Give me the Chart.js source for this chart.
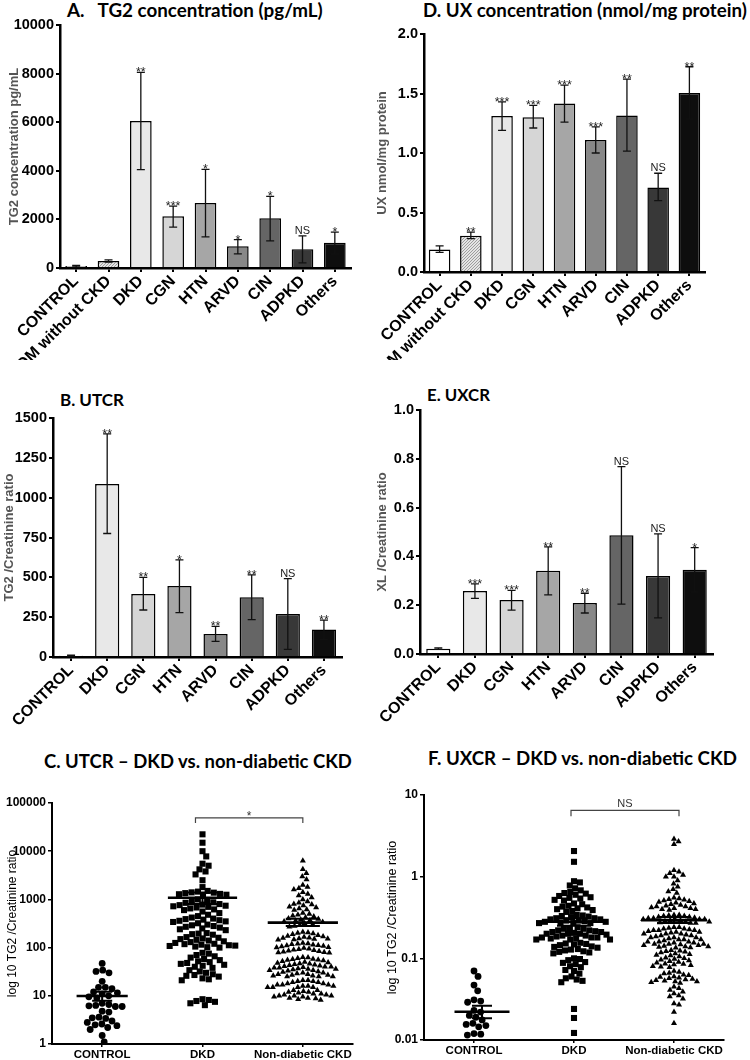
<!DOCTYPE html>
<html>
<head>
<meta charset="utf-8">
<script src="https://cdn.jsdelivr.net/npm/chart.js@4.4.1/dist/chart.umd.min.js"></script>
<style>
  body { margin: 0; background: #fff; width: 750px; height: 1060px; position: relative; overflow: hidden; }
  .panel { position: absolute; }
  .ttl { position: absolute; font-family: Lato, 'Open Sans', sans-serif; font-weight: 700; white-space: nowrap; color: #000; line-height: 1; font-size: 18px; }
</style>
</head>
<body>
<div class="ttl" data-x="67" data-y="11" data-w="256">A.&nbsp;&nbsp; TG2 concentration (pg/mL)</div>
<div class="ttl" data-x="423" data-y="11" data-w="324">D. UX concentration (nmol/mg protein)</div>
<div class="ttl" data-x="60" data-y="400" data-w="64">B. UTCR</div>
<div class="ttl" data-x="427" data-y="396" data-w="63">E. UXCR</div>
<div class="ttl" data-x="44" data-y="762" data-w="308">C. UTCR – DKD vs. non-diabetic CKD</div>
<div class="ttl" data-x="428" data-y="759" data-w="309">F. UXCR – DKD vs. non-diabetic CKD</div>

<div class="panel" style="left:0;top:0;width:375px;height:360px"><canvas id="chartA"></canvas></div>
<div class="panel" style="left:375px;top:0;width:375px;height:360px"><canvas id="chartD"></canvas></div>
<div class="panel" style="left:0;top:370px;width:375px;height:360px"><canvas id="chartB"></canvas></div>
<div class="panel" style="left:375px;top:370px;width:375px;height:360px"><canvas id="chartE"></canvas></div>
<div class="panel" style="left:0;top:780px;width:375px;height:280px"><canvas id="chartC"></canvas></div>
<div class="panel" style="left:375px;top:780px;width:375px;height:280px"><canvas id="chartF"></canvas></div>

<script>
// ---- data ----
const groups9 = ['CONTROL', 'DM without CKD', 'DKD', 'CGN', 'HTN', 'ARVD', 'CIN', 'ADPKD', 'Others'];
const groups8 = ['CONTROL', 'DKD', 'CGN', 'HTN', 'ARVD', 'CIN', 'ADPKD', 'Others'];
const groups3 = ['CONTROL', 'DKD', 'Non-diabetic CKD'];

// A. TG2 concentration (pg/mL)
const tg2Mean = [80, 290, 6050, 2130, 2680, 900, 2050, 775, 1040];
const tg2Low  = [50, 245, 4050, 1680, 1280, 580, 1120, 210, 580];
const tg2High = [110, 335, 8050, 2550, 4060, 1170, 2950, 1320, 1480];
const tg2Sig  = ['', '', '**', '***', '*', '*', '*', 'NS', '*'];
const tg2Ticks = [0, 2000, 4000, 6000, 8000, 10000];

// D. UX concentration (nmol/mg protein)
const uxMean = [0.19, 0.305, 1.31, 1.30, 1.415, 1.11, 1.315, 0.71, 1.505];
const uxLow  = [0.165, 0.28, 1.19, 1.21, 1.26, 1.0, 1.015, 0.6, 1.285];
const uxHigh = [0.22, 0.335, 1.43, 1.40, 1.57, 1.22, 1.62, 0.83, 1.725];
const uxSig  = ['', '**', '***', '***', '***', '***', '**', 'NS', '**'];
const uxTicks = [0, 0.5, 1.0, 1.5, 2.0];

// B. UTCR
const utcrMean = [8, 1085, 395, 445, 145, 375, 270, 172];
const utcrLow  = [5, 775, 295, 278, 98, 235, 48, 110];
const utcrHigh = [11, 1400, 500, 610, 192, 515, 492, 232];
const utcrSig  = ['', '**', '**', '*', '**', '**', 'NS', '**'];
const utcrTicks = [0, 250, 500, 750, 1000, 1250, 1500];

// E. UXCR
const uxcrMean = [0.022, 0.258, 0.221, 0.341, 0.209, 0.487, 0.32, 0.345];
const uxcrLow  = [0.019, 0.228, 0.180, 0.242, 0.168, 0.204, 0.148, 0.255];
const uxcrHigh = [0.025, 0.287, 0.261, 0.439, 0.249, 0.768, 0.492, 0.436];
const uxcrSig  = ['', '***', '***', '**', '**', 'NS', 'NS', '*'];
const uxcrTicks = [0, 0.2, 0.4, 0.6, 0.8, 1.0];

// C. UTCR individual values
const utcrControl = [47, 34, 32, 30, 20, 15, 15, 14, 12, 11.5, 11, 10, 9.5, 9, 7, 6.6, 6.3, 6.2, 6, 6,
  4.8, 4.6, 3.6, 3.5, 3.4, 3.0, 2.8, 2.6, 2.5, 2.4, 2.2, 2.0, 1.5, 1.1];
const utcrDKD = [22400, 15000, 10000, 7800, 5500, 5000, 4200, 3800, 3300, 2500, 1800,
  1500, 1450, 1400, 1380, 1350, 1300, 1280, 1250, 1200, 1000, 950, 900, 870, 850,
  800, 780, 760, 740, 720, 700, 680, 650, 620, 600, 560, 520, 480, 450, 420, 400,
  390, 380, 370, 360, 350, 340, 320, 300, 290, 280, 270, 260, 250, 240, 230, 200, 195, 190, 185,
  165, 160, 155, 150, 145, 140, 135, 130, 125, 120, 118, 115, 112, 110, 108, 105, 102, 100,
  78, 75, 70, 66, 62, 58, 55, 52, 50, 48, 46, 44, 42, 40, 38,
  34, 32, 30, 28, 27, 26, 25, 23, 22, 21, 8.5, 8.2, 7.8, 7.5, 7.0, 6.4];
const utcrNonDM = [6300, 4200, 3500, 3000, 2600, 2000, 1800, 1700, 1600, 1400, 1300, 1200, 1100, 1000,
  900, 850, 800, 780, 750, 700, 680, 650, 620, 600,
  520, 500, 480, 460, 440, 420, 400, 390, 380, 370, 360, 350, 340, 320, 300, 290, 280, 270,
  210, 205, 200, 195, 190, 180, 175, 170, 165, 160, 158, 155, 152, 150, 148, 145,
  125, 122, 120, 118, 115, 112, 110, 108, 105, 102, 100, 98, 95, 92, 90, 88, 86, 84, 82, 80, 79, 78,
  63, 62, 60, 58, 57, 56, 55, 54, 52, 50, 49, 48, 47, 46, 45, 44, 43, 42, 41, 40, 40, 39, 38, 38, 37,
  36, 36, 35, 34, 34, 33, 32, 31, 30, 30, 29, 28, 28, 27, 27, 26, 26, 25, 25, 25,
  21, 21, 20, 20, 19, 19, 18, 18, 17, 17, 17, 16, 16, 16, 15, 15, 15, 15,
  13, 13, 12.5, 12, 12, 11.5, 11, 11, 10.5, 10.5, 10, 10, 10, 9.5, 9.5, 9, 9, 8.8, 8.5, 8.2];
const utcrGroupMean = [9.9, 1080, 330];
const utcrGroupLow  = [7.9, 800, 280];
const utcrGroupHigh = [12.2, 1390, 395];
const utcrTicksLog = [1, 10, 100, 1000, 10000, 100000];

// F. UXCR individual values
const uxcrControl = [0.070, 0.060, 0.047, 0.040, 0.031, 0.030, 0.029, 0.023, 0.022, 0.020, 0.019,
  0.0176, 0.016, 0.0155, 0.015, 0.0145, 0.012, 0.0118, 0.0115];
const uxcrDKD = [2.06, 1.52, 0.88, 0.85, 0.78,
  0.72, 0.68, 0.65, 0.63, 0.62, 0.60, 0.58, 0.56, 0.55, 0.54, 0.52, 0.51,
  0.47, 0.46, 0.44, 0.43, 0.42, 0.41, 0.40, 0.39, 0.38, 0.37,
  0.34, 0.335, 0.33, 0.325, 0.32, 0.31, 0.31, 0.30, 0.30, 0.29, 0.29, 0.285, 0.28, 0.28, 0.275, 0.27, 0.27, 0.27,
  0.24, 0.235, 0.23, 0.23, 0.22, 0.22, 0.215, 0.21, 0.21, 0.205, 0.20, 0.20, 0.20, 0.195, 0.19, 0.19,
  0.185, 0.18, 0.18, 0.18, 0.175, 0.175, 0.17, 0.17, 0.17,
  0.155, 0.152, 0.15, 0.148, 0.145, 0.14, 0.138, 0.135, 0.13, 0.128, 0.125, 0.122, 0.12, 0.118, 0.115,
  0.10, 0.098, 0.095, 0.09, 0.088, 0.085, 0.08, 0.078,
  0.072, 0.07, 0.065, 0.06, 0.057, 0.055, 0.053, 0.051, 0.024, 0.0186, 0.0122];
const uxcrNonDM = [2.9, 2.7, 2.5, 1.2, 1.15, 1.1, 1.05, 1.0, 1.0, 0.9, 0.82, 0.75, 0.7, 0.66, 0.63,
  0.55, 0.54, 0.53, 0.52, 0.51, 0.50, 0.49, 0.48, 0.47, 0.46, 0.45, 0.44, 0.43, 0.43, 0.42, 0.41, 0.41, 0.40, 0.40, 0.39,
  0.34, 0.34, 0.335, 0.33, 0.33, 0.32, 0.32, 0.315, 0.31, 0.31, 0.30, 0.30, 0.30, 0.295, 0.29, 0.29, 0.285, 0.28, 0.28, 0.275, 0.27, 0.27,
  0.24, 0.24, 0.235, 0.23, 0.23, 0.225, 0.22, 0.22, 0.22, 0.215, 0.21, 0.21, 0.205, 0.20, 0.20, 0.20, 0.195,
  0.19, 0.19, 0.185, 0.18, 0.18, 0.18, 0.175, 0.17, 0.17, 0.17, 0.165, 0.16, 0.16, 0.16, 0.155, 0.155,
  0.15, 0.15, 0.15, 0.148, 0.145, 0.145, 0.142, 0.14, 0.14, 0.138, 0.136, 0.135,
  0.126, 0.124, 0.122, 0.12, 0.118, 0.115, 0.112, 0.11, 0.108, 0.105, 0.102, 0.10, 0.098, 0.096, 0.094,
  0.092, 0.09, 0.088, 0.086, 0.085, 0.084, 0.082, 0.08, 0.079, 0.078,
  0.07, 0.068, 0.066, 0.065, 0.063, 0.062, 0.06, 0.059, 0.058, 0.057, 0.056, 0.055, 0.054, 0.053, 0.052, 0.052, 0.051, 0.05,
  0.045, 0.043, 0.041, 0.039, 0.037, 0.035, 0.034, 0.032, 0.028, 0.027, 0.022, 0.016];
const uxcrGroupMean = [0.0222, 0.28, 0.294];
const uxcrGroupLow  = [0.0184, 0.25, 0.27];
const uxcrGroupHigh = [0.0263, 0.31, 0.32];
const uxcrTicksLog = [0.01, 0.1, 1, 10];

// ---- styling ----
const FONT = "'Liberation Sans', Arial, Helvetica, sans-serif";
Chart.defaults.font.family = FONT;
Chart.defaults.color = '#000';
Chart.defaults.animation = false;

function hatchPattern() {
  const c = document.createElement('canvas');
  c.width = 3; c.height = 3;
  const g = c.getContext('2d');
  g.fillStyle = '#e4e4e4';
  g.fillRect(0, 0, 3, 3);
  g.strokeStyle = '#8a8a8a';
  g.lineWidth = 0.8;
  g.beginPath();
  g.moveTo(0, 3); g.lineTo(3, 0);
  g.moveTo(-1, 1); g.lineTo(1, -1);
  g.moveTo(2, 4); g.lineTo(4, 2);
  g.stroke();
  return g.createPattern(c, 'repeat');
}
const hatch = hatchPattern();
const fills9 = ['#ffffff', hatch, '#e8e8e8', '#d6d6d6', '#a6a6a6', '#888888', '#656565', '#383838', '#0e0e0e'];
const fills8 = ['#ffffff', '#e8e8e8', '#d6d6d6', '#a6a6a6', '#888888', '#656565', '#383838', '#0e0e0e'];

// error bars + significance marks over the bars
const errorBarPlugin = {
  id: 'errorBars',
  afterDatasetsDraw(chart) {
    const { ctx } = chart;
    const y = chart.scales.y;
    const ds = chart.data.datasets[0];
    const meta = chart.getDatasetMeta(0);
    ctx.save();
    ctx.strokeStyle = '#111';
    ctx.lineWidth = 1.3;
    ctx.fillStyle = '#222';
    ctx.textAlign = 'center';
    meta.data.forEach((bar, i) => {
      const x = bar.x;
      const yLo = y.getPixelForValue(ds.errLow[i]);
      const yHi = y.getPixelForValue(ds.errHigh[i]);
      ctx.beginPath();
      ctx.moveTo(x, yLo); ctx.lineTo(x, yHi);
      ctx.moveTo(x - 4, yLo); ctx.lineTo(x + 4, yLo);
      ctx.moveTo(x - 4, yHi); ctx.lineTo(x + 4, yHi);
      ctx.stroke();
      const s = ds.sig[i];
      if (s) {
        ctx.font = (s === 'NS' ? '11px ' : '12.5px ') + FONT;
        ctx.textBaseline = 'alphabetic';
        ctx.fillText(s, x, s === 'NS' ? yHi - 2 : yHi + 4);
      }
    });
    ctx.restore();
  }
};

function barChart(id, labels, means, lows, highs, sig, fills, ticks, yTitle, box, fmt) {
  return new Chart(document.getElementById(id), {
    type: 'bar',
    data: {
      labels: labels,
      datasets: [{
        data: means, errLow: lows, errHigh: highs, sig: sig,
        backgroundColor: fills, borderColor: '#000', borderWidth: 1.5,
        barPercentage: box.bar, categoryPercentage: 1
      }]
    },
    options: {
      responsive: true,
      maintainAspectRatio: false,
      layout: { padding: { top: box.top, right: box.right, left: 0, bottom: 0 } },
      plugins: { legend: { display: false }, tooltip: { enabled: false } },
      scales: {
        x: {
          offset: true,
          grid: { display: true, drawOnChartArea: false, offset: false, tickLength: 4, color: '#000', lineWidth: 2 },
          border: { display: true, color: '#000', width: 2.5 },
          ticks: { font: { size: 16, weight: 'bold' }, color: '#000', minRotation: 45, maxRotation: 45, padding: 0, autoSkip: false },
          afterFit: s => { s.height = box.xH; }
        },
        y: {
          min: ticks[0], max: ticks[ticks.length - 1],
          afterBuildTicks: s => { s.ticks = ticks.map(v => ({ value: v })); },
          grid: { display: true, drawOnChartArea: false, tickLength: 4, color: '#000', lineWidth: 2 },
          border: { display: true, color: '#000', width: 2.5 },
          ticks: { font: { size: 14.5, weight: 'bold' }, color: '#000', padding: 2, callback: fmt },
          title: { display: true, text: yTitle, color: '#555', font: { size: 13, weight: 'bold' }, padding: { top: box.tp, bottom: 0 } },
          afterFit: s => { s.width = box.yW; }
        }
      }
    },
    plugins: [errorBarPlugin]
  });
}

// mean +/- SEM lines and the comparison bracket
const meanSemPlugin = {
  id: 'meanSem',
  afterDatasetsDraw(chart, args, o) {
    const { ctx } = chart;
    const xs = chart.scales.x, ys = chart.scales.y;
    const unit = xs.getPixelForValue(1) - xs.getPixelForValue(0);
    ctx.save();
    ctx.strokeStyle = '#000';
    o.means.forEach((m, g) => {
      const cx = xs.getPixelForValue(g + o.shift[g]);
      const hw = o.halfW[g] * unit, cw = o.capW[g] * unit;
      const ym = ys.getPixelForValue(m), yl = ys.getPixelForValue(o.lows[g]), yh = ys.getPixelForValue(o.highs[g]);
      ctx.lineWidth = 2.6;
      ctx.beginPath(); ctx.moveTo(cx - hw, ym); ctx.lineTo(cx + hw, ym); ctx.stroke();
      ctx.lineWidth = 2;
      ctx.beginPath();
      ctx.moveTo(cx, yl); ctx.lineTo(cx, yh);
      ctx.moveTo(cx - cw, yl); ctx.lineTo(cx + cw, yl);
      ctx.moveTo(cx - cw, yh); ctx.lineTo(cx + cw, yh);
      ctx.stroke();
    });
    const b = o.bracket;
    const x0 = xs.getPixelForValue(b.x0), x1 = xs.getPixelForValue(b.x1), by = ys.getPixelForValue(b.y);
    ctx.strokeStyle = '#444';
    ctx.lineWidth = 1.2;
    ctx.beginPath();
    ctx.moveTo(x0, by + b.drop); ctx.lineTo(x0, by); ctx.lineTo(x1, by); ctx.lineTo(x1, by + b.drop);
    ctx.stroke();
    ctx.fillStyle = '#333';
    ctx.font = (b.label === 'NS' ? '11px ' : '12px ') + FONT;
    ctx.textAlign = 'center';
    ctx.textBaseline = 'alphabetic';
    ctx.fillText(b.label, (x0 + x1) / 2, b.label === 'NS' ? by - 3 : by + 2);
    ctx.restore();
  }
};

function dotChart(id, series, styles, radii, ticks, yTitle, box, stats) {
  return new Chart(document.getElementById(id), {
    type: 'scatter',
    data: {
      datasets: series.map((vals, g) => ({
        data: vals.map(v => ({ x: g, y: v })),
        pointStyle: styles[g], pointRadius: radii[g], pointHoverRadius: radii[g],
        backgroundColor: '#000', borderColor: '#000', borderWidth: 0
      }))
    },
    options: {
      responsive: true,
      maintainAspectRatio: false,
      layout: { padding: { top: box.top, right: box.right, left: 0, bottom: 0 } },
      plugins: { legend: { display: false }, tooltip: { enabled: false }, meanSem: stats },
      scales: {
        x: {
          type: 'linear', min: -0.5, max: 2.5,
          afterBuildTicks: s => { s.ticks = groups3.map((g, i) => ({ value: i })); },
          grid: { display: true, drawOnChartArea: false, tickLength: 3, color: '#000', lineWidth: 1.5 },
          border: { display: true, color: '#000', width: 2 },
          ticks: { font: { size: 11.5, weight: 'bold' }, color: '#000', minRotation: 0, maxRotation: 0, padding: 1, callback: v => groups3[v] },
          afterFit: s => { s.height = box.xH; }
        },
        y: {
          type: 'logarithmic', min: ticks[0], max: ticks[ticks.length - 1],
          afterBuildTicks: s => { s.ticks = ticks.map(v => ({ value: v })); },
          grid: { display: true, drawOnChartArea: false, tickLength: 4, color: '#000', lineWidth: 1.5 },
          border: { display: true, color: '#000', width: 2 },
          ticks: { font: { size: 12, weight: 'bold' }, color: '#000', padding: 2, callback: v => String(v) },
          title: { display: true, text: yTitle, color: '#000', font: { size: box.ts }, padding: { top: box.tp, bottom: 0 } },
          afterFit: s => { s.width = box.yW; }
        }
      }
    },
    plugins: [meanSemPlugin]
  });
}

// spread the points of one group sideways so they do not overlap (beeswarm)
function swarm(chart, dsIndex, diam) {
  const xs = chart.scales.x, ys = chart.scales.y;
  const unit = xs.getPixelForValue(1) - xs.getPixelForValue(0);
  const pts = chart.data.datasets[dsIndex].data;
  const order = pts.map((p, i) => i).sort((a, b) => pts[b].y - pts[a].y);
  const placed = [];
  const d2 = diam * diam;
  order.forEach(i => {
    const py = ys.getPixelForValue(pts[i].y);
    const near = placed.filter(q => Math.abs(q.py - py) < diam);
    const cands = [0];
    near.forEach(q => {
      const dx = Math.sqrt(d2 - (q.py - py) * (q.py - py));
      cands.push(q.dx + dx, q.dx - dx);
    });
    cands.sort((a, b) => Math.abs(a) - Math.abs(b));
    const best = cands.find(c => near.every(q => (q.dx - c) * (q.dx - c) + (q.py - py) * (q.py - py) >= d2 - 0.01));
    placed.push({ dx: best, py: py });
    pts[i].x = dsIndex + best / unit;
  });
}

const fmtInt = v => String(v);
const fmt1 = v => v.toFixed(1);

barChart('chartA', groups9, tg2Mean, tg2Low, tg2High, tg2Sig, fills9, tg2Ticks, 'TG2 concentration pg/mL',
  { top: 25, right: 24, xH: 92, yW: 60, tp: 7, bar: 0.67 }, fmtInt);
barChart('chartD', groups9, uxMean, uxLow, uxHigh, uxSig, fills9, uxTicks, 'UX nmol/mg protein',
  { top: 34, right: 45, xH: 88, yW: 49, tp: 0, bar: 0.69 }, fmt1);
barChart('chartB', groups8, utcrMean, utcrLow, utcrHigh, utcrSig, fills8, utcrTicks, 'TG2 /Creatinine ratio',
  { top: 48, right: 33, xH: 73, yW: 53, tp: 2, bar: 0.67 }, fmtInt);
barChart('chartE', groups8, uxcrMean, uxcrLow, uxcrHigh, uxcrSig, fills8, uxcrTicks, 'XL /Creatinine ratio',
  { top: 40, right: 37, xH: 76, yW: 45, tp: 0, bar: 0.66 }, fmt1);

const chartC = dotChart('chartC', [utcrControl, utcrDKD, utcrNonDM], ['circle', 'rect', 'triangle'], [3.4, 4.3, 3.5],
  utcrTicksLog, 'log 10 TG2 /Creatinine ratio', { top: 23, right: 22, xH: 16, yW: 52, tp: 5, ts: 12 },
  { means: utcrGroupMean, lows: utcrGroupLow, highs: utcrGroupHigh,
    shift: [0, 0, 0], halfW: [0.255, 0.345, 0.35], capW: [0.1, 0.18, 0.17],
    bracket: { x0: 0.93, x1: 2.0, y: 49000, label: '*', drop: 5 } });
const chartF = dotChart('chartF', [uxcrControl, uxcrDKD, uxcrNonDM], ['circle', 'rect', 'triangle'], [3.4, 4.3, 3.5],
  uxcrTicksLog, 'log 10 TG2 /Creatinine ratio', { top: 15, right: 26, xH: 20, yW: 49, tp: 10, ts: 12.5 },
  { means: uxcrGroupMean, lows: uxcrGroupLow, highs: uxcrGroupHigh,
    shift: [0.08, 0, 0], halfW: [0.275, 0.29, 0.33], capW: [0.1, 0.17, 0.17],
    bracket: { x0: 0.97, x1: 2.05, y: 6.5, label: 'NS', drop: 6 } });

// collision distances per group: circles, squares, triangles
swarm(chartC, 0, 6.8); swarm(chartC, 1, 6.4); swarm(chartC, 2, 5.2);
swarm(chartF, 0, 6.8); swarm(chartF, 1, 6.0); swarm(chartF, 2, 5.2);
chartC.update('none');
chartF.update('none');

// place the panel titles
document.querySelectorAll('.ttl').forEach(el => {
  const w = el.getBoundingClientRect().width;
  const fs = 18 * (+el.dataset.w) / w;
  el.style.fontSize = fs.toFixed(2) + 'px';
  el.style.left = el.dataset.x + 'px';
  el.style.top = (+el.dataset.y - fs * 0.55).toFixed(1) + 'px';
});
</script>
</body>
</html>
